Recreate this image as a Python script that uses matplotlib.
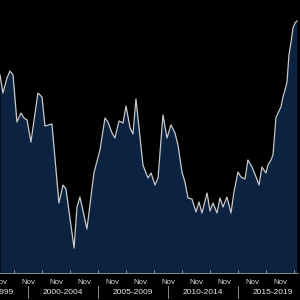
import matplotlib
matplotlib.use("Agg")
import matplotlib.pyplot as plt
from matplotlib.lines import Line2D

# Decimal-year dates and index levels
dates = [1998.83, 1999.04, 1999.33, 1999.54, 1999.76, 2000.04, 2000.33, 2000.54,
         2000.76, 2001.04, 2001.54, 2001.83, 2002.04, 2002.54, 2003.04, 2003.33,
         2003.54, 2004.12, 2004.33, 2004.54, 2005.04, 2005.54, 2005.97, 2006.33,
         2006.54, 2006.83, 2007.04, 2007.33, 2007.62, 2007.83, 2008.12, 2008.33,
         2008.54, 2009.04, 2009.40, 2009.62, 2009.90, 2010.12, 2010.47, 2010.76,
         2011.04, 2011.33, 2011.54, 2011.83, 2012.04, 2012.26, 2012.54, 2012.83,
         2013.04, 2013.26, 2013.62, 2013.83, 2014.04, 2014.33, 2014.54, 2014.76,
         2015.04, 2015.33, 2015.54, 2015.83, 2016.04, 2016.33, 2016.54, 2016.83,
         2017.12, 2017.33, 2017.54, 2017.83, 2017.97, 2018.19, 2018.33, 2018.54,
         2018.69, 2018.90, 2019.04, 2019.19, 2019.33, 2019.47, 2019.62, 2019.76,
         2019.90, 2020.04]
values = [198, 180, 195, 202, 198, 151, 160, 155, 153, 131, 180, 176, 147, 149,
          70, 88, 84, 25, 66, 76, 44, 100, 123, 155, 151, 140, 135, 152, 150,
          167, 145, 139, 174, 108, 95, 100, 88, 95, 158, 135, 148, 140, 128,
          101, 91, 75, 74, 61, 71, 60, 80, 62, 70, 60, 75, 66, 76, 60, 81,
          101, 96, 94, 113, 106, 96, 88, 106, 100, 108, 113, 118, 155, 160,
          166, 176, 183, 191, 218, 231, 245, 250, 252]

nov_ticks = [1998.83 + 2 * k for k in range(11)]
minor_ticks = [1999.83 + 2 * k for k in range(11)]
period_labels = ["1995-1999", "2000-2004", "2005-2009", "2010-2014", "2015-2019"]
period_centers = [1998.33, 2003.33, 2008.33, 2013.33, 2018.33]
period_bounds = [2000.83, 2005.83, 2010.83, 2015.83]

fig = plt.figure(figsize=(3, 3), dpi=100, facecolor="black")
ax = fig.add_axes([0, 27 / 300, 298 / 300, 273 / 300])
ax.set_facecolor("black")

ax.fill_between(dates, values, 0, color="#0b2341", lw=0)
ax.plot(dates, values, color="#c8c8c8", lw=0.9)

ax.set_xlim(1998.83, 1998.83 + 298 / 14)
ax.set_ylim(0, 273)

for s in ["top", "left", "right"]:
    ax.spines[s].set_visible(False)
ax.spines["bottom"].set_color("#8a8a8a")
ax.spines["bottom"].set_linewidth(0.7)
ax.set_yticks([])
ax.set_xticks(minor_ticks)
ax.set_xticklabels([])
ax.tick_params(axis="x", direction="in", length=2, width=0.7, color="#9a9a9a")

tr = ax.get_xaxis_transform()
for x in nov_ticks:
    ax.text(x, -9 / 273, "Nov", transform=tr, ha="center", va="center",
            color="#d8d8d8", fontsize=5.6, family="Liberation Sans", clip_on=False)
for x, lab in zip(period_centers, period_labels):
    ax.text(x, -19 / 273, lab, transform=tr, ha="center", va="center",
            color="#e8e8e8", fontsize=6.0, family="Liberation Sans", clip_on=False)
for x in period_bounds:
    ax.add_line(Line2D([x, x], [-13 / 273, -25 / 273], transform=tr,
                       color="#8a8a8a", lw=0.7, clip_on=False))

fig.savefig("out.png", dpi=100, facecolor="black")
